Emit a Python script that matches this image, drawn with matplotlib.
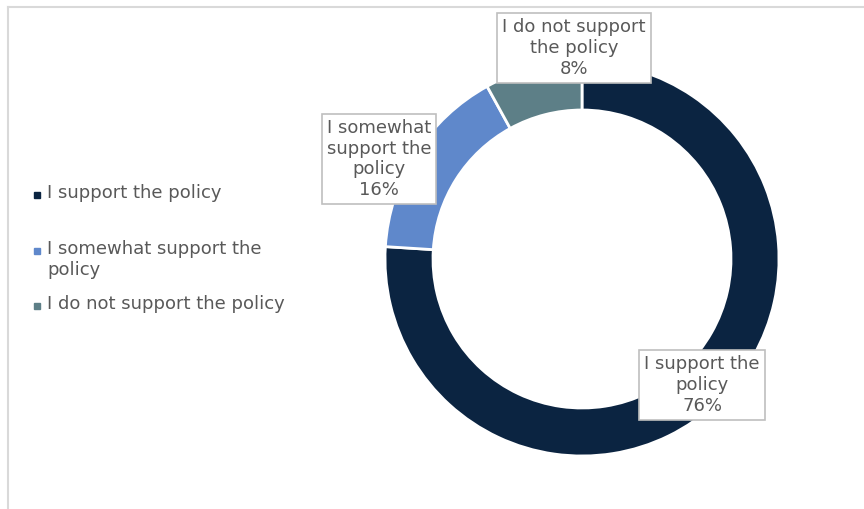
import matplotlib
matplotlib.use("Agg")
import matplotlib.pyplot as plt
from matplotlib.patches import Rectangle
from matplotlib.lines import Line2D

labels = ["I support the policy", "I somewhat support the policy", "I do not support the policy"]
legend_labels = ["I support the policy", "I somewhat support the\npolicy", "I do not support the policy"]
box_labels = ["I support the\npolicy", "I somewhat\nsupport the\npolicy", "I do not support\nthe policy"]
values = [76, 16, 8]
colors = ["#0B2441", "#5F88CB", "#5D7F87"]

W, H = 864, 509
txt_color = "#595959"
fs = 13

fig = plt.figure(figsize=(W / 100, H / 100), dpi=100)


def fx(px):
    return px / W


def fy(py):
    return 1 - py / H


# chart area border (only top and left visible)
fig.add_artist(Line2D([fx(8), fx(8)], [fy(7), 0], color="#D9D9D9", lw=1.5))
fig.add_artist(Line2D([fx(8), 1], [fy(7), fy(7)], color="#D9D9D9", lw=1.5))

# donut
cx, cy, r = 582, 259, 197
ax = fig.add_axes([fx(cx - r), fy(cy + r), 2 * r / W, 2 * r / H])
ax.pie(values, colors=colors, startangle=90, counterclock=False, radius=1,
       wedgeprops=dict(width=48 / 197, edgecolor="white", linewidth=2))
ax.set_xlim(-1, 1)
ax.set_ylim(-1, 1)
ax.set_aspect("equal")
ax.axis("off")

# data labels
label_pos = [(702, 385), (379, 159), (574, 48)]
for txt, v, (px, py) in zip(box_labels, values, label_pos):
    fig.text(fx(px), fy(py), f"{txt}\n{v}%", ha="center", va="center",
             multialignment="center", fontsize=fs, color=txt_color, linespacing=1.2,
             bbox=dict(boxstyle="square,pad=0.28", fc="white", ec="#BFBFBF", lw=1.2))

# legend
leg_y = [195, 251, 306]
for lab, col, py in zip(legend_labels, colors, leg_y):
    fig.add_artist(Rectangle((fx(34), fy(py + 3)), 6 / W, 6 / H, color=col))
    fig.text(fx(47), fy(py - 11), lab, ha="left", va="top", fontsize=fs,
             color=txt_color, linespacing=1.2)

fig.savefig("out.png", dpi=100)
